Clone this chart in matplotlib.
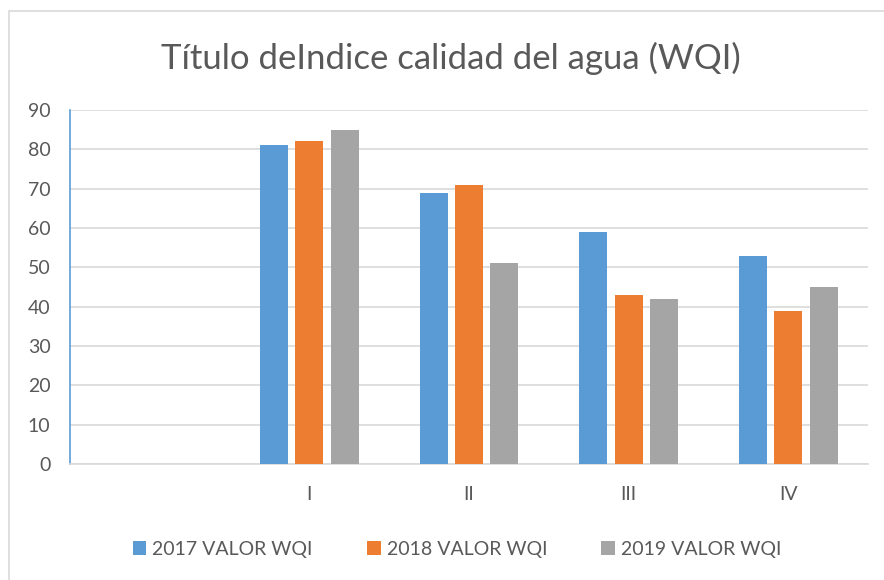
import numpy as np
import matplotlib.pyplot as plt
from matplotlib.patches import Rectangle

plt.rcParams['font.family'] = ['Lato', 'DejaVu Sans']

# Datos del índice de calidad del agua por periodo
categorias = ['', 'I', 'II', 'III', 'IV']
wqi_2017 = [np.nan, 81, 69, 59, 53]
wqi_2018 = [np.nan, 82, 71, 43, 39]
wqi_2019 = [np.nan, 85, 51, 42, 45]
series = ['2017 VALOR WQI', '2018 VALOR WQI', '2019 VALOR WQI']
colores = ['#5B9BD5', '#ED7D31', '#A5A5A5']
texto = '#595959'

fig = plt.figure(figsize=(8.84, 5.8), dpi=100)
ax = fig.add_axes([70 / 884, 1 - 464 / 580, 798 / 884, 354 / 580])

# Marco exterior del gráfico
fig.patches.append(Rectangle((9 / 884, -0.1), 1.2, 1 - 11 / 580 + 0.1,
                             transform=fig.transFigure, fill=False,
                             edgecolor='#D9D9D9', linewidth=1.2))

x = np.arange(len(categorias))
ancho = 0.175
paso = 0.222
for i, (vals, nombre, c) in enumerate(zip([wqi_2017, wqi_2018, wqi_2019], series, colores)):
    ax.bar(x + (i - 1) * paso, vals, width=ancho, color=c, label=nombre, zorder=3)

ax.set_xlim(-0.5, len(categorias) - 0.5)
ax.set_ylim(0, 90)
ax.set_yticks(np.arange(0, 91, 10))
ax.set_xticks(x)
ax.set_xticklabels(categorias)
ax.grid(axis='y', color='#D9D9D9', linewidth=1.2, zorder=0)

for s in ['top', 'right']:
    ax.spines[s].set_visible(False)
ax.spines['bottom'].set_color('#D9D9D9')
ax.spines['bottom'].set_linewidth(1.2)
ax.spines['left'].set_color('#5B9BD5')
ax.spines['left'].set_linewidth(1.2)

ax.tick_params(axis='y', length=0, pad=14, labelsize=14, labelcolor=texto)
ax.tick_params(axis='x', length=0, pad=16, labelsize=14, labelcolor=texto)
ax.set_yticks([0, 90], minor=True)
ax.tick_params(axis='y', which='minor', length=6, color='#5B9BD5', width=1.2)

fig.text(0.51, 1 - 58 / 580, 'Título deIndice calidad del agua (WQI)',
         ha='center', va='center', fontsize=25, color=texto)

fig.legend(loc='center', bbox_to_anchor=(0.517, 1 - 549 / 580), ncol=3,
           frameon=False, fontsize=14, labelcolor=texto,
           handlelength=0.7, handleheight=0.7, handletextpad=0.3,
           columnspacing=2.8)

fig.savefig('out.png', dpi=100)
